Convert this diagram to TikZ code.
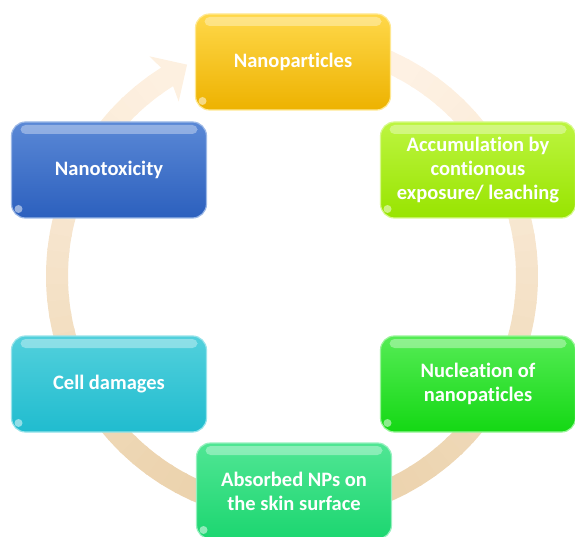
\documentclass[tikz,border=0pt]{standalone}
\usepackage{fontspec}
\setmainfont{Carlito}[Ligatures=NoCommon]
\usepackage{tikz}

\definecolor{ringdark}{HTML}{EBD2AC}
\definecolor{ringlight}{HTML}{FFF3E6}
\definecolor{nanotop}{HTML}{FFD84A}
\definecolor{nanobot}{HTML}{EDB200}
\definecolor{accumtop}{HTML}{BDF540}
\definecolor{accumbot}{HTML}{98E400}
\definecolor{nucltop}{HTML}{55EC55}
\definecolor{nuclbot}{HTML}{14D814}
\definecolor{absorbtop}{HTML}{50E694}
\definecolor{absorbbot}{HTML}{1CD670}
\definecolor{celltop}{HTML}{52D0DC}
\definecolor{cellbot}{HTML}{20BCCF}
\definecolor{toxictop}{HTML}{5A88D6}
\definecolor{toxicbot}{HTML}{2C60BE}

\tikzset{
  stagebox/.style 2 args={rounded corners=14pt, minimum width=195pt,
    minimum height=96pt, align=center, text=white,
    font=\bfseries\fontsize{20.5}{24}\selectfont,
    top color=#1, bottom color=#2, draw=#1!60!white, line width=1.2pt,
    path picture={
      \fill[white, opacity=0.35, rounded corners=5pt]
        ([xshift=9pt,yshift=-3pt]path picture bounding box.north west)
        rectangle ([xshift=-9pt,yshift=-12pt]path picture bounding box.north east);
      \fill[white, opacity=0.5]
        ([xshift=7pt,yshift=9pt]path picture bounding box.south west) circle (4pt);
    }},
}

\begin{document}
\begin{tikzpicture}[x=1pt,y=1pt]
  \useasboundingbox (0,0) rectangle (575,536);
  % cycle ring behind the boxes
  \begin{scope}[shift={(292,260)}]
    \foreach \a in {70,66,...,-234} {
      \pgfmathsetmacro\t{50*(1-sin(\a))}
      \draw[line width=22pt, ringdark!\t!ringlight]
        (\a:235) arc[start angle=\a, end angle=\a-4.6, radius=235];
    }
    \fill[ringdark!10!ringlight] (123:262) -- (116.4:236) -- (123:208)
      -- (121.5:235) -- cycle;
  \end{scope}
  % stages
  \node[stagebox={nanotop}{nanobot}] (nano) at (293,474) {Nanoparticles};
  \node[stagebox={accumtop}{accumbot}] (accum) at (478,366)
    {Accumulation by\\contionous\\exposure/ leaching};
  \node[stagebox={nucltop}{nuclbot}] (nucl) at (478,152)
    {Nucleation of\\nanopaticles};
  \node[stagebox={absorbtop}{absorbbot}] (absorb) at (294,45)
    {Absorbed NPs on\\the skin surface};
  \node[stagebox={celltop}{cellbot}] (cell) at (109,152) {Cell damages};
  \node[stagebox={toxictop}{toxicbot}] (toxic) at (109,366) {Nanotoxicity};
\end{tikzpicture}
\end{document}
